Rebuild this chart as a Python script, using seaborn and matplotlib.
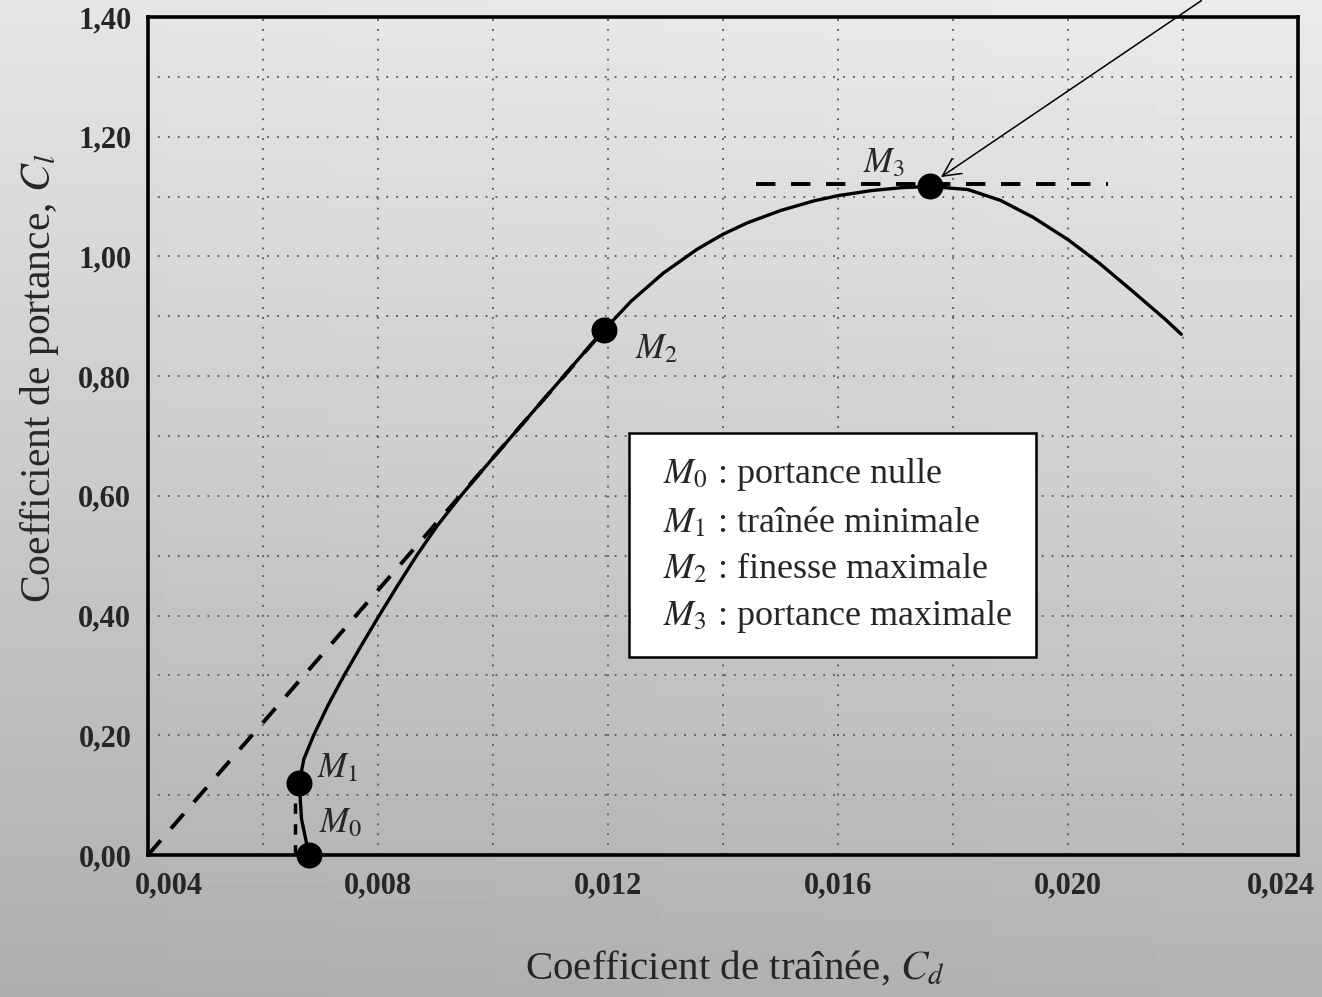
import numpy as np
import pandas as pd
import matplotlib
matplotlib.use("Agg")
import matplotlib.pyplot as plt
from matplotlib.ticker import MultipleLocator, FixedLocator, FuncFormatter
from matplotlib.patches import Rectangle
from matplotlib.transforms import ScaledTranslation
import seaborn as sns

# ---- data ----
polar_cd = [0.00680, 0.00667, 0.00663, 0.00671, 0.00688, 0.00713, 0.00741, 0.00771,
            0.00802, 0.00834, 0.00867, 0.00903, 0.00944, 0.00988, 0.01033, 0.01078,
            0.01123, 0.01168, 0.01193, 0.01240, 0.01296, 0.01355, 0.01400, 0.01442,
            0.01501, 0.01559, 0.01600, 0.01658, 0.01710, 0.01760, 0.01826, 0.01883,
            0.01940, 0.02000, 0.02054, 0.02111, 0.02169, 0.02197]
polar_cl = [0.000, 0.060, 0.120, 0.160, 0.200, 0.250, 0.300, 0.350,
            0.400, 0.450, 0.500, 0.550, 0.600, 0.650, 0.700, 0.750,
            0.800, 0.850, 0.877, 0.925, 0.972, 1.012, 1.037, 1.056,
            1.077, 1.093, 1.1015, 1.110, 1.1148, 1.117, 1.1117, 1.0935,
            1.065, 1.028, 0.989, 0.943, 0.895, 0.870]

point_names = ["$M_0$", "$M_1$", "$M_2$", "$M_3$"]
point_cd = [0.0068, 0.00663, 0.01193, 0.0176]
point_cl = [0.0, 0.12, 0.877, 1.117]
point_desc = ["portance nulle", "traînée minimale", "finesse maximale", "portance maximale"]

tangent_cd = [0.004, 0.01193]
tangent_cl = [0.0, 0.877]
min_drag_cd = [0.00655, 0.00655]
min_drag_cl = [0.0, 0.10]
max_lift_cd = [0.01457, 0.02069]
max_lift_cl = [1.121, 1.121]

x_ticks = [0.004, 0.008, 0.012, 0.016, 0.020, 0.024]
x_label = "Coefficient de traînée, $C_d$"
y_label = "Coefficient de portance, $C_l$"

# ---- style ----
sns.set_theme(style="white")
plt.rcParams["font.family"] = ["Liberation Serif", "DejaVu Serif"]
plt.rcParams["mathtext.fontset"] = "stix"

fig = plt.figure(figsize=(13.22, 9.97), dpi=100)

# scanned-paper gray gradient background
bg = fig.add_axes([0, 0, 1, 1], zorder=-10)
grad = np.linspace(0.90, 0.68, 256).reshape(-1, 1) * np.ones((1, 8))
grad = grad + np.linspace(0.0, 0.02, 8).reshape(1, -1)
bg.imshow(grad, aspect="auto", cmap="gray", vmin=0, vmax=1, extent=[0, 1, 0, 1])
bg.axis("off")

ax = fig.add_axes([148 / 1322, (997 - 855) / 997, 1150 / 1322, 838 / 997])
ax.set_facecolor("none")

df_polar = pd.DataFrame({"Cd": polar_cd, "Cl": polar_cl})
df_pts = pd.DataFrame({"Cd": point_cd, "Cl": point_cl, "name": point_names})

sns.lineplot(data=df_polar, x="Cd", y="Cl", sort=False, estimator=None,
             color="black", lw=2.4, ax=ax, zorder=4,
             solid_joinstyle="round", solid_capstyle="round")
sns.lineplot(x=tangent_cd, y=tangent_cl, sort=False, estimator=None, color="black",
             lw=2.8, ax=ax, zorder=3, linestyle=(0, (5, 4)))
sns.lineplot(x=min_drag_cd, y=min_drag_cl, sort=False, estimator=None, color="black",
             lw=2.5, ax=ax, zorder=3, linestyle=(0, (3, 3)))
sns.lineplot(x=max_lift_cd, y=max_lift_cl, sort=False, estimator=None, color="black",
             lw=2.8, ax=ax, zorder=3, linestyle=(0, (5, 4)))
sns.scatterplot(data=df_pts, x="Cd", y="Cl", color="black", s=300, ax=ax,
                zorder=6, clip_on=False, edgecolor="black")

ax.set_xlim(0.004, 0.024)
ax.set_ylim(0.0, 1.40)

# point labels
label_pos = [(0.00735, 0.052), (0.0073, 0.145), (0.01285, 0.845), (0.0168, 1.155)]
for name, (lx, ly) in zip(point_names, label_pos):
    ax.text(lx, ly, name, fontsize=25, ha="center", va="center", zorder=7)

# arrow towards M3
ax.annotate("", xy=(0.01775, 1.13), xytext=(0.02236, 1.43),
            arrowprops=dict(arrowstyle="->", lw=1.1, color="black", mutation_scale=32),
            annotation_clip=False)

# legend box
ax.add_patch(Rectangle((0.418, 0.236), 0.354, 0.268, transform=ax.transAxes,
                       facecolor="white", edgecolor="black", lw=1.8, zorder=8))
line_y = [0.4535, 0.397, 0.341, 0.285]
for name, desc, yy in zip(point_names, point_desc, line_y):
    ax.text(0.448, yy, f"{name} : {desc}", transform=ax.transAxes, fontsize=26,
            ha="left", va="center", zorder=9)

# ticks & grid
ax.xaxis.set_major_locator(FixedLocator(x_ticks))
ax.xaxis.set_minor_locator(MultipleLocator(0.002))
ax.yaxis.set_major_locator(MultipleLocator(0.2))
ax.yaxis.set_minor_locator(MultipleLocator(0.1))
ax.xaxis.set_major_formatter(FuncFormatter(lambda v, p: f"{v:.3f}".replace(".", ",")))
ax.yaxis.set_major_formatter(FuncFormatter(lambda v, p: f"{v:.2f}".replace(".", ",")))
ax.tick_params(which="both", direction="in", color="black", width=1.6)
ax.tick_params(axis="y", which="both", length=9, labelsize=22, pad=12)
ax.tick_params(axis="x", which="major", length=9, labelsize=22, pad=12)
ax.tick_params(axis="x", which="minor", length=5)
ax.grid(which="both", color="#555555", lw=1.3, linestyle=(0, (1, 4.5)))
for s in ax.spines.values():
    s.set_visible(True)
    s.set_color("black")
    s.set_linewidth(2.6)
ax.set_xlabel("")
ax.set_ylabel("")

xt = ax.xaxis.get_major_ticks()
for t in xt + ax.yaxis.get_major_ticks():
    t.label1.set_fontweight("bold")
# first and last x tick labels sit inward, as in the reference
xt[0].label1.set_transform(xt[0].label1.get_transform() +
                           ScaledTranslation(15 / 72, 0, fig.dpi_scale_trans))
xt[-1].label1.set_transform(xt[-1].label1.get_transform() +
                            ScaledTranslation(-12 / 72, 0, fig.dpi_scale_trans))

fig.text(735 / 1322, 1 - 968 / 997, x_label, fontsize=29.5, ha="center", va="center")
fig.text(40 / 1322, 1 - 378 / 997, y_label, fontsize=30, ha="center", va="center",
         rotation=90)

fig.savefig("out.png", dpi=100)
